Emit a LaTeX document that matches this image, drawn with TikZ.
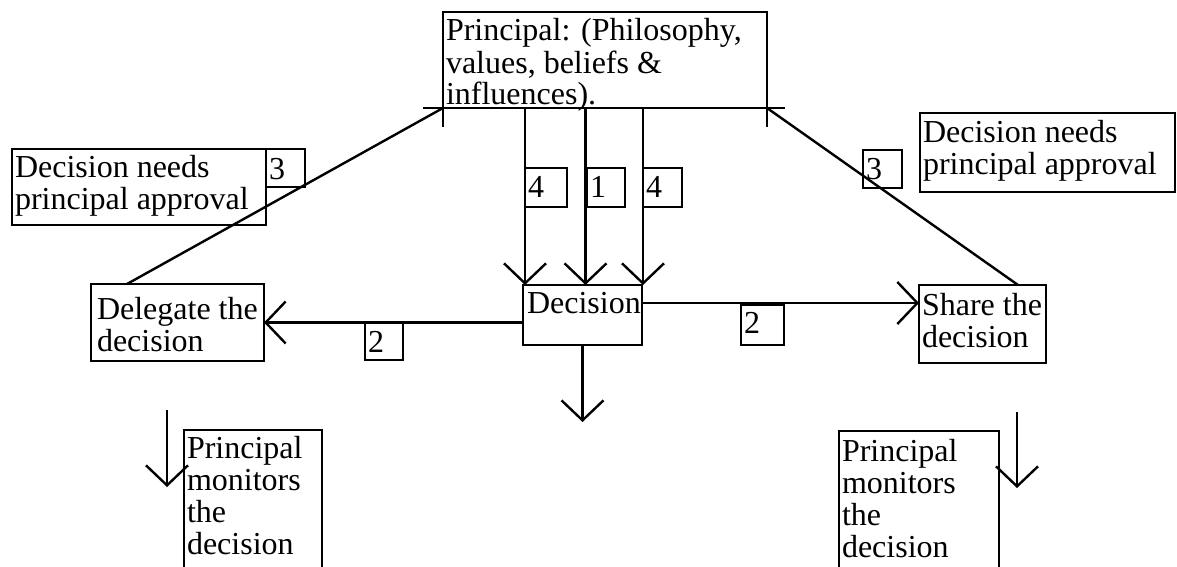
\documentclass[tikz,border=0pt]{standalone}
\usepackage{fontspec}
\setmainfont{Liberation Serif}
\usetikzlibrary{arrows.meta}
\newcommand{\bxt}[4]{\parbox[t][#2][t]{#1}{\raggedright\vspace*{#3}\strut #4}}
\begin{document}
\begin{tikzpicture}[x=1pt,y=-1pt,
  bx/.style={draw, line width=2.2pt, anchor=north west, outer sep=0pt, inner xsep=3pt, inner ysep=3pt, font=\fontsize{32}{32}\selectfont},
  ln/.style={line width=2.4pt},
  arr/.style={ln, -{Straight Barb[length=20pt,width=42pt]}}]
\useasboundingbox (0,0) rectangle (1177,567);
\clip (0,0) rectangle (1177,567);

\node[bx] (prin) at (443,12) {\fontsize{32}{31.5}\selectfont\bxt{318pt}{90pt}{3pt}{Principal: (Philosophy,\\ values, beliefs \&\\ influences).}};
\node[bx] (lab1) at (12,149) {\bxt{248pt}{70pt}{2.6pt}{Decision needs\\ principal approval}};
\node[bx] (t3a) at (266,149) {\bxt{33pt}{32pt}{5pt}{3}};
\node[bx] (lab2) at (920,113) {\bxt{249pt}{73pt}{4.6pt}{Decision needs\\ principal approval}};
\node[bx] (t3b) at (863,150) {\bxt{33pt}{32pt}{4.6pt}{3}};
\node[bx] (f1) at (525,168) {\bxt{36pt}{33pt}{4.5pt}{4}};
\node[bx] (o1) at (587,168) {\bxt{32pt}{33pt}{4.5pt}{1}};
\node[bx] (f2) at (643,168) {\bxt{33pt}{33pt}{4.5pt}{4}};
\node[bx] (dec) at (523,285) {\bxt{113pt}{54pt}{2.6pt}{\mbox{\hspace*{1pt}Decision}}};
\node[bx] (del) at (91,284) {\bxt{167pt}{71pt}{10pt}{\hspace*{3pt}Delegate the\\ \hspace*{3pt}decision}};
\node[bx] (sh) at (919,285) {\bxt{121pt}{72pt}{4.6pt}{\mbox{Share the}\\ decision}};
\node[bx] (tw1) at (365,323) {\bxt{32pt}{31pt}{3.6pt}{2}};
\node[bx] (tw2) at (741,305) {\bxt{37pt}{34pt}{2.6pt}{2}};
\node[bx] (mon1) at (184,430) {\bxt{132pt}{160pt}{2.6pt}{Principal\\ monitors\\ the\\ decision}};
\node[bx] (mon2) at (839,431) {\bxt{154pt}{160pt}{4.6pt}{Principal\\ monitors\\ the\\ decision}};

% principal bottom cross marks
\draw[ln] ([xshift=-20pt]prin.south west) -- ([xshift=18pt]prin.south east);
\draw[ln] (prin.south west) -- ++(0,19);
\draw[ln] (prin.south east) -- ++(0,19);
% diagonals
\draw[ln] (prin.south west) -- ([xshift=36pt]del.north west);
\draw[ln] (prin.south east) -- ([xshift=-28pt]sh.north east);
% vertical arrows into decision
\coordinate (a1) at ([xshift=2pt]dec.north west);
\coordinate (a2) at ([xshift=3pt]dec.north);
\coordinate (a3) at ([xshift=1pt]dec.north east);
\draw[arr] (a1 |- prin.south) -- (a1);
\draw[arr] (a2 |- prin.south) -- (a2);
\draw[arr] (a3 |- prin.south) -- (a3);
% horizontal arrows
\draw[arr] (dec.west |- del.east) -- (del.east);
\draw[arr] ([yshift=12pt]dec.east) coordinate (r0) -- (r0 -| sh.west);
% downward arrow
\coordinate (b1) at (583,422);
\draw[arr] (dec.south) -- (dec.south |- b1);
% monitor arrows
\coordinate (m1s) at (167,410);
\coordinate (m1e) at (167,487);
\draw[arr] (m1s) -- (m1e);
\coordinate (m2s) at (1017,412);
\coordinate (m2e) at (1017,488);
\draw[arr] (m2s) -- (m2e);
\end{tikzpicture}
\end{document}
